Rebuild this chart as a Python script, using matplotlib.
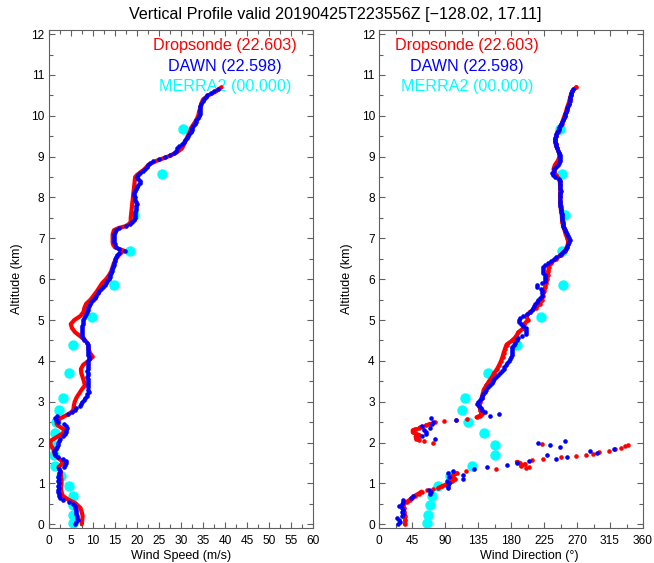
import numpy as np
import matplotlib
matplotlib.use("Agg")
import matplotlib.pyplot as plt
from matplotlib.ticker import MultipleLocator

plt.rcParams['font.family'] = ['Liberation Sans', 'DejaVu Sans']

# ---------------- Dropsonde profile ----------------
drop_alt = [0.0, 0.1, 0.2, 0.3, 0.4, 0.5, 0.55, 0.6, 0.65, 0.7, 0.75, 0.8, 0.83, 0.86, 0.89,
            0.93, 0.97, 1.0, 1.05, 1.1, 1.15, 1.2, 1.25, 1.3, 1.35, 1.39, 1.41, 1.43, 1.47,
            1.5, 1.53, 1.57, 1.61, 1.64, 1.67, 1.7, 1.73, 1.76, 1.8, 1.84, 1.88, 1.91, 1.94,
            1.97, 2.0, 2.04, 2.07, 2.1, 2.14, 2.18, 2.22, 2.26, 2.3, 2.33, 2.36, 2.39, 2.42,
            2.46, 2.5, 2.53, 2.56, 2.59, 2.62, 2.66, 2.7, 2.75, 2.8, 2.9, 3.0, 3.1, 3.2, 3.3,
            3.4, 3.5, 3.6, 3.7, 3.8, 3.9, 4.0, 4.1, 4.2, 4.3, 4.4, 4.5, 4.6, 4.7, 4.8, 4.9,
            5.0, 5.1, 5.2, 5.3, 5.4, 5.5, 5.6, 5.7, 5.8, 5.9, 6.0, 6.1, 6.2, 6.3, 6.4, 6.5,
            6.6, 6.7, 6.78, 6.85, 6.9, 7.0, 7.1, 7.2, 7.25, 7.3, 7.36, 7.4, 7.5, 7.6, 7.7,
            7.8, 7.9, 8.0, 8.1, 8.2, 8.3, 8.4, 8.5, 8.55, 8.6, 8.7, 8.8, 8.9, 9.0, 9.1, 9.2,
            9.3, 9.4, 9.5, 9.6, 9.7, 9.8, 9.9, 10.0, 10.1, 10.2, 10.3, 10.4, 10.5, 10.6, 10.7]
drop_speed = [7.5, 7.6, 7.7, 7.5, 7.2, 6.2, 5.5, 4.5, 3.8, 3.2, 3.0, 2.9, 2.85, 2.8, 2.8,
              2.85, 2.9, 2.9, 2.9, 2.9, 2.8, 2.8, 2.75, 2.7, 2.4, 2.2, 2.3, 2.6, 2.9,
              3.1, 3.3, 2.8, 2.3, 2.0, 1.7, 1.4, 1.3, 1.25, 1.2, 1.1, 0.8, 0.6, 0.5,
              0.4, 0.3, 0.4, 0.8, 1.3, 1.9, 2.5, 3.1, 3.4, 3.6, 3.3, 2.9, 2.5, 2.1,
              1.8, 1.8, 2.0, 2.3, 2.6, 3.1, 3.8, 4.5, 5.2, 5.6, 5.7, 5.9, 6.3, 6.9, 7.5,
              8.2, 8.0, 7.7, 7.4, 7.3, 7.8, 9.0, 10.0, 9.3, 9.0, 9.0, 8.3, 7.2, 6.0, 5.3, 5.0,
              5.8, 7.2, 7.9, 8.1, 8.5, 9.5, 10.2, 10.9, 11.5, 12.1, 13.0, 13.7, 14.2, 14.5, 14.8, 15.3,
              16.0, 17.0, 15.0, 14.6, 14.5, 14.5, 14.5, 14.8, 15.8, 17.5, 18.3, 18.6, 18.6, 18.7, 18.8,
              18.9, 19.0, 19.1, 19.2, 19.3, 19.4, 19.5, 19.6, 20.0, 20.6, 21.8, 22.6, 24.5, 27.0, 29.0, 30.2,
              30.7, 31.1, 31.5, 32.0, 32.3, 32.9, 33.5, 33.9, 34.1, 34.4, 34.6, 35.0, 36.2, 38.0, 39.2]
drop_dir = [35.5, 36, 35.5, 34.5, 34, 33, 38, 42, 45, 49, 54, 58, 65, 73, 81,
            86, 91, 95, 100, 104, 98, 101, 106, 119, 160, 200, 205, 194, 199,
            192, 188, 208, 224, 248, 268, 282, 292, 300, 314, 322, 330, 335, 340,
            222, 73, 62, 55, 51, 50, 55, 50, 46, 46, 50, 55, 58, 64,
            70, 77, 89, 105, 120, 133, 138, 140, 139, 138, 137, 138, 140, 141.5, 143,
            146.5, 150, 154, 157, 161, 164, 166.5, 168.5, 170, 172, 174, 182, 187, 190, 197, 198,
            203, 201, 206, 214, 219, 222, 223.5, 225, 226.5, 228, 229, 230, 231, 231.5, 234, 242,
            248, 254, 256, 257.5, 258, 257, 254.5, 253, 252, 251, 250.5, 250, 249.5, 249, 248,
            247.5, 247, 247, 247, 247, 247, 246.5, 243, 241, 239, 238, 240, 244, 246, 245.5, 243,
            241, 240, 241.5, 244, 246, 249, 251, 253, 255, 256.5, 258.5, 260, 261.5, 263.5, 269]

# ---------------- DAWN lidar profile (range gates every 50 m) ----------------
dawn_alt = np.round(np.arange(0.0, 10.66, 0.05), 2)
dawn_speed = [6.0, 6.3, 6.6, 6.5, 6.4, 6.3, 6.3, 6.1, 6.0, 5.9,
              5.6, 4.5, 3.2, 2.6, 2.3, 2.3, 2.2, 2.2, 2.3, 2.2,
              2.3, 2.2, 2.3, 2.2, 2.4, 2.3, 2.5, 2.4, 3.5, 3.7,
              4.0, 3.9, 3.2, 2.0, 1.5, 1.4, 1.3, 1.6, 1.9, 2.2,
              2.0, 2.4, 2.6, 3.2, 3.7, 4.0, 4.0, 4.1, 3.9, 3.5,
              2.0, 1.6, 1.4, 1.9, 4.3, 5.3, 5.9, 6.2, 7.0, 7.3,
              7.6, 8.0, 8.3, 8.6, 8.7, 9.1, 8.9, 8.8, 9.0, 8.9,
              9.0, 8.8, 8.7, 8.8, 8.9, 8.7, 8.8, 8.9, 8.9, 9.0,
              9.0, 9.2, 9.1, 8.9, 8.8, 8.8, 8.9, 9.0, 8.9, 8.6,
              8.0, 7.7, 7.6, 7.5, 7.5, 7.6, 7.5, 7.5, 7.7, 7.8,
              7.8, 8.0, 8.3, 8.5, 8.6, 8.8, 9.0, 9.2, 9.4, 9.7,
              10.0, 10.4, 10.8, 11.2, 11.5, 11.9, 12.3, 12.7, 13.0, 13.3,
              13.6, 13.9, 14.0, 14.2, 14.3, 14.4, 14.6, 14.7, 14.9, 15.0,
              15.1, 15.3, 15.5, 16.0, 17.2, 16.0, 15.2, 15.0, 14.9, 14.8,
              14.8, 14.8, 14.9, 15.0, 15.2, 16.0, 17.5, 18.4, 19.0, 19.4,
              19.5, 19.5, 19.6, 19.6, 19.7, 19.8, 19.9, 20.0, 19.8, 19.6,
              19.5, 19.4, 19.4, 19.5, 19.8, 20.0, 20.3, 20.6, 20.7, 20.3,
              20.0, 20.2, 20.8, 21.4, 21.8, 22.2, 22.6, 23.0, 23.6, 25.0,
              26.4, 27.6, 28.3, 28.8, 29.2, 29.6, 30.2, 30.6, 31.0, 31.3,
              31.6, 31.9, 32.2, 32.4, 32.6, 32.8, 33.1, 33.3, 33.5, 33.8,
              34.0, 34.2, 34.3, 34.3, 34.3, 34.3, 34.5, 35.0, 35.3, 35.6,
              35.9, 36.8, 37.4, 38.5]
dawn_dir = [26, 28, 27, 25, 31, 33, 32, 33, 32, 27,
            32, 33, 33, 43, 47, 70, 71, 68, 94, 94,
            95, 93, 114, 95, 115, 94, 101, 130, 147, 174,
            188, 204, 242, 256, 229, 297, 288, 320, 247, 233,
            217, 254, 77, 58, 64, 64, 62, 70, 59, 72,
            74, 105, 71, 152, 163, 144, 141, 139, 136, 134,
            135, 138, 140, 141, 142, 144, 146, 149, 152, 154,
            155, 157, 160, 162, 165, 168, 170, 171, 173, 175,
            177, 179, 180, 181, 182, 181, 181, 181, 184, 186,
            188, 190, 195, 201, 201, 200, 200, 196, 193, 191,
            191, 192, 197, 202, 206, 208, 210, 212, 213, 215,
            217, 220, 222, 222, 222, 221, 216, 215, 222, 226,
            226, 227, 226, 224, 223, 223, 224, 226, 230, 234,
            238, 242, 247, 249, 252, 255, 257, 258, 259, 260,
            259, 258, 256, 255, 254, 252, 251, 251, 251, 250,
            250, 249, 249, 248, 248, 248, 247, 247, 247, 247,
            247, 247, 247, 248, 247, 247, 247, 247, 247, 246,
            240, 237, 236, 238, 239, 241, 244, 246, 247, 247,
            247, 247, 246, 244, 243, 242, 241, 240, 240, 240,
            241, 242, 243, 245, 246, 247, 248, 249, 251, 252,
            253, 254, 255, 256, 257, 258, 259, 260, 260, 261,
            262, 262, 263, 264]

# ---------------- MERRA2 pressure levels ----------------
merra_alt = [0.02, 0.23, 0.47, 0.70, 0.94, 1.18, 1.42, 1.69, 1.95, 2.23, 2.51,
             2.80, 3.10, 3.70, 4.40, 5.08, 5.85, 6.68, 7.58, 8.57, 9.68]
merra_speed = [5.6, 5.6, 5.6, 5.4, 4.5, 2.9, 1.4, 1.1, 1.0, 1.4, 1.7,
               2.4, 3.2, 4.5, 5.4, 9.8, 14.7, 18.4, 19.4, 25.6, 30.5]
merra_dir = [65, 67, 69, 72.5, 81, 97, 127, 158, 158, 143, 121,
             113, 117, 149, 188.6, 221, 251, 249, 253.6, 249, 247]

legend_labels = ['Dropsonde (22.603)', 'DAWN (22.598)', 'MERRA2 (00.000)']
legend_colors = ['#ff0000', '#0000ff', '#00ffff']
title = 'Vertical Profile valid 20190425T223556Z [\u2212128.02, 17.11]'

RED, BLUE, CYAN = '#ff0000', '#0000ff', '#00ffff'
FRAME = '#606060'

W, H = 654, 563
fig = plt.figure(figsize=(W / 100, H / 100), dpi=100)
top_px, bot_px = 30.0, 528.4
ax1 = fig.add_axes([48.7 / W, 1 - bot_px / H, 264.6 / W, (bot_px - top_px) / H])
ax2 = fig.add_axes([379.0 / W, 1 - bot_px / H, 264.0 / W, (bot_px - top_px) / H])


def style(ax, xmax, xmajor, xminor):
    ax.set_xlim(0, xmax)
    ax.set_ylim(-0.1, 12.1)
    ax.xaxis.set_major_locator(MultipleLocator(xmajor))
    ax.xaxis.set_minor_locator(MultipleLocator(xminor))
    ax.yaxis.set_major_locator(MultipleLocator(1))
    ax.yaxis.set_minor_locator(MultipleLocator(0.5))
    for sp in ax.spines.values():
        sp.set_color(FRAME)
        sp.set_linewidth(0.8)
    ax.tick_params(which='both', direction='in', top=True, right=True,
                   color=FRAME, width=0.8, labelsize=8.6, labelcolor='black')
    ax.tick_params(which='major', length=4.0)
    ax.tick_params(which='minor', length=3.0)
    ax.tick_params(axis='x', pad=5)
    ax.tick_params(axis='y', pad=3)


def runs(alt, val, max_rate):
    alt = np.asarray(alt, float)
    val = np.asarray(val, float)
    rate = np.abs(np.diff(val)) / np.diff(alt)
    cuts = np.where(rate > max_rate)[0] + 1
    return zip(np.split(alt, cuts), np.split(val, cuts))


style(ax1, 60, 5, 2.5)
style(ax2, 360, 45, 22.5)

# wind speed panel
ax1.plot(merra_speed, merra_alt, 'o', color=CYAN, ms=7.5, mec='none', zorder=2)
ax1.plot(drop_speed, drop_alt, '-', color=RED, lw=3.0, solid_capstyle='round',
         solid_joinstyle='round', zorder=3)
ax1.plot(dawn_speed, dawn_alt, 'o', color=BLUE, ms=3.3, mec='none', zorder=4)

# wind direction panel: sonde drawn continuous only where direction turns slowly
for a, v in runs(drop_alt, drop_dir, 150):
    ax2.plot(v, a, '-', color=RED, lw=3.0, solid_capstyle='round',
             solid_joinstyle='round', zorder=3)
ax2.plot(merra_dir, merra_alt, 'o', color=CYAN, ms=7.5, mec='none', zorder=2)
ax2.plot(drop_dir, drop_alt, 'o', color=RED, ms=3.3, mec='none', zorder=3)
ax2.plot(dawn_dir, dawn_alt, 'o', color=BLUE, ms=3.3, mec='none', zorder=4)

legend_y = [11.71, 11.20, 10.71]
for ax, xc in ((ax1, 40), (ax2, 120)):
    for lab, col, yy in zip(legend_labels, legend_colors, legend_y):
        ax.text(xc, yy, lab, color=col, fontsize=11.6, ha='center', va='center', zorder=1)

fig.text(335 / W, 1 - 14 / H, title, ha='center', va='center', fontsize=11.6)
fig.text(16.7 / W, 1 - 279 / H, 'Altitude (km)', rotation=90, ha='center', va='center', fontsize=9)
fig.text(346.7 / W, 1 - 279 / H, 'Altitude (km)', rotation=90, ha='center', va='center', fontsize=9)
fig.text(181 / W, 1 - 555.5 / H, 'Wind Speed (m/s)', ha='center', va='center', fontsize=9)
fig.text(529 / W, 1 - 555.5 / H, 'Wind Direction (\u00b0)', ha='center', va='center', fontsize=9)

fig.savefig('out.png', dpi=100)
